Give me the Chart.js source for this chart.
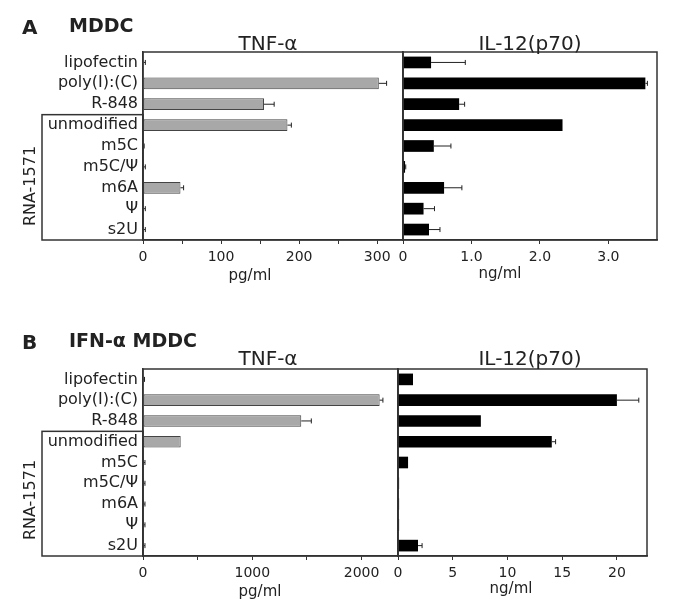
<!DOCTYPE html>
<html>
<head>
<meta charset="utf-8">
<script src="https://cdn.jsdelivr.net/npm/chart.js@4.4.1/dist/chart.umd.min.js"></script>
<style>
  body { margin: 0; background: #fff; }
  #wrap { position: relative; width: 680px; height: 614px; overflow: hidden; font-family: "DejaVu Sans", sans-serif; color: #222; }
  canvas { position: absolute; }
  .t { position: absolute; line-height: 1; white-space: nowrap; transform: translate(-50%, -50%); }
  .h { position: absolute; line-height: 1; white-space: nowrap; font-weight: bold; transform: translateY(-50%); font-size: 19px; }
</style>
</head>
<body>
<div id="wrap">
  <canvas id="aTnf" width="420" height="300" style="left:0;top:0"></canvas>
  <canvas id="aIl" width="300" height="300" style="left:380px;top:0"></canvas>
  <canvas id="bTnf" width="420" height="300" style="left:0;top:310px"></canvas>
  <canvas id="bIl" width="300" height="300" style="left:380px;top:310px"></canvas>

  <div class="h" style="left:22px;top:27px;font-size:20px">A</div>
  <div class="h" style="left:69px;top:25px">MDDC</div>
  <div class="t" style="left:268px;top:43px;font-size:20px">TNF-α</div>
  <div class="t" style="left:530px;top:43px;font-size:20px">IL-12(p70)</div>
  <div class="t" style="left:250px;top:275px;font-size:15px">pg/ml</div>
  <div class="t" style="left:500px;top:273px;font-size:15px">ng/ml</div>
  <div class="t" style="left:30px;top:186px;font-size:16px;transform:translate(-50%,-50%) rotate(-90deg)">RNA-1571</div>

  <div class="h" style="left:22px;top:342px;font-size:20px">B</div>
  <div class="h" style="left:69px;top:340px">IFN-α MDDC</div>
  <div class="t" style="left:268px;top:358px;font-size:20px">TNF-α</div>
  <div class="t" style="left:530px;top:358px;font-size:20px">IL-12(p70)</div>
  <div class="t" style="left:260px;top:591px;font-size:15px">pg/ml</div>
  <div class="t" style="left:511px;top:588px;font-size:15px">ng/ml</div>
  <div class="t" style="left:30px;top:500px;font-size:16px;transform:translate(-50%,-50%) rotate(-90deg)">RNA-1571</div>
</div>
<script>
const categories = ['lipofectin', 'poly(I):(C)', 'R-848', 'unmodified', 'm5C', 'm5C/Ψ', 'm6A', 'Ψ', 's2U'];

// A: MDDC
const tnfA = [1, 302, 155, 185, 1, 1, 48, 1, 1];
const tnfAErr = [2, 10, 13, 5, 0.5, 2, 4, 2, 2];
const il12A = [0.41, 3.54, 0.82, 2.33, 0.45, 0.03, 0.6, 0.3, 0.38];
const il12AErr = [0.5, 0.03, 0.08, 0, 0.25, 0.01, 0.26, 0.16, 0.16];

// B: IFN-alpha MDDC
const tnfB = [8, 2165, 1448, 345, 10, 10, 10, 10, 10];
const tnfBErr = [6, 30, 92, 0, 8, 8, 8, 8, 8];
const il12B = [1.37, 20.0, 7.57, 14.05, 0.92, 0.1, 0.1, 0.1, 1.83];
const il12BErr = [0, 2.0, 0, 0.35, 0, 0, 0, 0, 0.37];

// tick positions and their labels ('' = tick mark only)
const tnfATicks = [0, 50, 100, 150, 200, 250, 300];
const tnfALabels = ['0', '', '100', '', '200', '', '300'];
const il12ATicks = [0, 1, 2, 3];
const il12ALabels = ['0', '1.0', '2.0', '3.0'];
const tnfBTicks = [0, 500, 1000, 1500, 2000];
const tnfBLabels = ['0', '', '1000', '', '2000'];
const il12BTicks = [0, 5, 10, 15, 20];
const il12BLabels = ['0', '5', '10', '15', '20'];

const FONT = '"DejaVu Sans", sans-serif';
const INK = '#222';

// frame round the plot area, plus the RNA-1571 bracket box on the left charts
const framePlugin = {
  id: 'frame',
  afterDraw(chart, args, opts) {
    const { ctx, chartArea: a, scales } = chart;
    ctx.save();
    ctx.strokeStyle = '#333';
    ctx.lineWidth = 1.5;
    ctx.strokeRect(a.left, a.top, a.right - a.left, a.bottom - a.top);
    if (opts.groupBox) {
      const yTop = scales.y.getPixelForValue(2.5);
      ctx.strokeRect(42, yTop, a.left - 42, a.bottom - yTop);
    }
    ctx.restore();
  }
};

const errorBars = {
  id: 'errorBars',
  afterDatasetsDraw(chart, args, opts) {
    const { ctx, scales } = chart;
    const meta = chart.getDatasetMeta(0);
    const vals = chart.data.datasets[0].data;
    ctx.save();
    ctx.strokeStyle = '#222';
    ctx.lineWidth = 1;
    meta.data.forEach((bar, i) => {
      const e = opts.err[i];
      if (!e) return;
      const x0 = scales.x.getPixelForValue(vals[i]);
      const x1 = scales.x.getPixelForValue(vals[i] + e);
      const y = bar.y;
      ctx.beginPath();
      ctx.moveTo(x0, y);
      ctx.lineTo(x1, y);
      ctx.moveTo(x1, y - 2.5);
      ctx.lineTo(x1, y + 2.5);
      ctx.stroke();
    });
    ctx.restore();
  }
};

function makeChart(id, values, errs, cfg) {
  return new Chart(document.getElementById(id), {
    type: 'bar',
    data: {
      labels: categories,
      datasets: [{
        data: values,
        backgroundColor: cfg.fill,
        borderColor: cfg.edge,
        borderWidth: cfg.edgeWidth,
        borderSkipped: false,
        barPercentage: 0.56,
        categoryPercentage: 1
      }]
    },
    options: {
      indexAxis: 'y',
      responsive: false,
      animation: false,
      layout: { padding: cfg.pad },
      plugins: {
        legend: { display: false },
        tooltip: { enabled: false },
        frame: { groupBox: cfg.showLabels },
        errorBars: { err: errs }
      },
      scales: {
        x: {
          min: 0,
          max: cfg.max,
          afterFit: s => { s.height = cfg.xHeight; },
          afterBuildTicks: s => { s.ticks = cfg.ticks.map(v => ({ value: v })); },
          border: { display: true, color: '#333', width: 1.5 },
          grid: { drawOnChartArea: false, drawTicks: true, tickLength: 4, color: '#333' },
          ticks: {
            autoSkip: false,
            maxRotation: 0,
            padding: 5,
            color: INK,
            font: { family: FONT, size: 14 },
            callback: (v, i) => cfg.labels[i]
          }
        },
        y: {
          afterFit: s => { s.width = cfg.yWidth; },
          border: { display: true, color: '#333', width: 1.5 },
          grid: { display: false, drawTicks: false, tickLength: 0 },
          ticks: {
            display: cfg.showLabels,
            autoSkip: false,
            padding: 5,
            color: INK,
            font: { family: FONT, size: 16 }
          }
        }
      }
    },
    plugins: [framePlugin, errorBars]
  });
}

const grey = { fill: '#a8a8a8', edge: '#444', edgeWidth: 1 };
const black = { fill: '#000', edge: '#000', edgeWidth: 0 };

makeChart('aTnf', tnfA, tnfAErr, Object.assign({}, grey, {
  max: 333, ticks: tnfATicks, labels: tnfALabels, showLabels: true, yWidth: 143, xHeight: 60,
  pad: { top: 52, right: 17, bottom: 0, left: 0 }
}));
makeChart('aIl', il12A, il12AErr, Object.assign({}, black, {
  max: 3.71, ticks: il12ATicks, labels: il12ALabels, showLabels: false, yWidth: 23, xHeight: 60,
  pad: { top: 52, right: 23, bottom: 0, left: 0 }
}));
makeChart('bTnf', tnfB, tnfBErr, Object.assign({}, grey, {
  max: 2333, ticks: tnfBTicks, labels: tnfBLabels, showLabels: true, yWidth: 143, xHeight: 54,
  pad: { top: 59, right: 22, bottom: 0, left: 0 }
}));
makeChart('bIl', il12B, il12BErr, Object.assign({}, black, {
  max: 22.75, ticks: il12BTicks, labels: il12BLabels, showLabels: false, yWidth: 18, xHeight: 54,
  pad: { top: 59, right: 33, bottom: 0, left: 0 }
}));
</script>
</body>
</html>
